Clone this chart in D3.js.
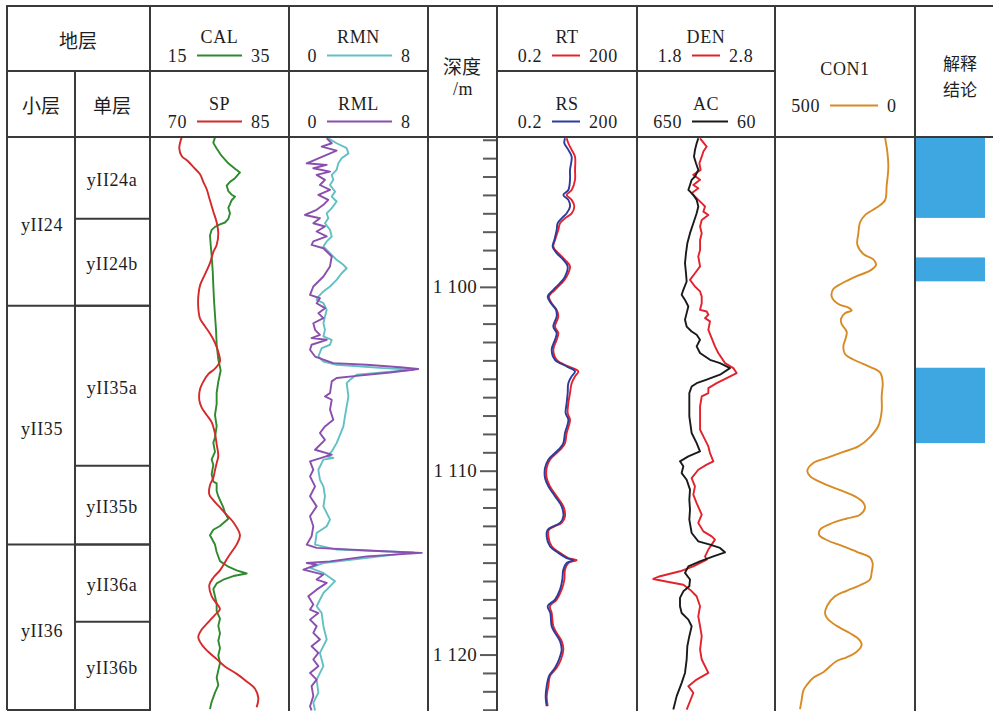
<!DOCTYPE html>
<html>
<head>
<meta charset="utf-8">
<script src="https://cdn.jsdelivr.net/npm/d3@7"></script>
<style>
  body { margin: 0; background: #fff; }
  svg text { font-family: "Liberation Serif", "Times New Roman", serif; fill: #1e1e1e; letter-spacing: 0.6px; }
  svg text.cn { font-family: "Noto Sans CJK SC", sans-serif; letter-spacing: 0; }
</style>
</head>
<body>
<svg id="drawing_region"></svg>
<script>
// ---- depth range shown and strata ----
const depthTop = 1091.85, depthBottom = 1123.07;

const zoneNames = ['yII24', 'yII35', 'yII36'];
const zoneTops = [1091.85, 1101.03, 1114.02];
const zoneBottoms = [1101.03, 1114.02, 1122.99];

const layerNames = ['yII24a', 'yII24b', 'yII35a', 'yII35b', 'yII36a', 'yII36b'];
const layerTops = [1091.85, 1096.30, 1101.03, 1109.73, 1114.02, 1118.21];
const layerBottoms = [1096.30, 1101.03, 1109.73, 1114.02, 1118.21, 1122.99];

// interpretation intervals (解释结论)
const resultTops = [1091.85, 1098.40, 1104.40];
const resultBottoms = [1096.25, 1099.70, 1108.50];

// ---- log curves, [depth, value] ----
const calLog = [[1091.87,24.35],[1092.17,24.11],[1092.48,24.59],[1092.88,25.31],[1093.28,26.27],[1093.58,27.23],[1093.78,27.95],[1094.09,27.23],[1094.29,26.51],[1094.49,26.03],
  [1094.79,26.27],[1094.99,26.75],[1095.09,27.23],[1095.29,26.75],[1095.50,26.51],[1095.70,26.27],[1096.00,26.51],[1096.30,26.27],[1096.50,25.79],[1096.60,25.07],
  [1096.74,24.35],[1096.90,23.87],[1097.21,23.63],[1097.71,23.73],[1098.31,23.87],[1099.12,24.02],[1099.92,24.11],[1100.73,24.21],[1101.53,24.35],[1102.34,24.50],
  [1103.14,24.59],[1103.95,24.83],[1104.55,25.17],[1105.16,24.83],[1105.76,24.59],[1106.37,24.59],[1106.97,24.35],[1107.57,24.59],[1108.18,24.35],[1108.48,24.11],
  [1108.98,24.35],[1109.38,23.87],[1109.69,24.11],[1110.19,23.87],[1110.59,24.11],[1110.69,24.59],[1111.10,24.59],[1111.40,24.83],[1111.60,25.07],[1112.00,25.55],
  [1112.30,25.79],[1112.61,26.27],[1113.01,25.07],[1113.21,24.11],[1113.51,23.63],[1114.01,24.35],[1114.42,24.59],[1114.92,25.07],[1115.22,26.27],[1115.42,27.47],
  [1115.59,28.91],[1115.73,26.99],[1115.93,25.55],[1116.13,24.59],[1116.43,24.11],[1116.83,24.35],[1117.24,24.59],[1117.64,24.59],[1118.04,25.07],[1118.44,24.83],
  [1118.85,25.07],[1119.25,24.83],[1119.65,25.07],[1120.05,24.83],[1120.46,25.07],[1120.86,24.83],[1121.26,24.59],[1121.66,24.83],[1122.07,24.35],[1122.57,23.87],[1122.97,23.63]];

const spLog = [[1091.87,73.42],[1092.47,73.16],[1092.88,73.42],[1093.18,74.13],[1093.48,74.67],[1093.88,75.40],[1094.29,75.75],[1094.69,76.12],[1095.29,76.47],[1095.90,76.83],
  [1096.50,77.20],[1097.10,77.37],[1097.71,77.20],[1098.11,76.83],[1098.71,76.47],[1099.32,75.93],[1099.92,75.40],[1100.53,75.21],[1101.13,75.21],[1101.73,75.40],
  [1102.14,75.93],[1102.54,76.47],[1103.04,77.01],[1103.54,77.37],[1104.05,77.55],[1104.45,77.01],[1104.75,76.29],[1105.16,75.75],[1105.56,75.40],[1106.16,75.32],
  [1106.57,75.58],[1106.97,76.12],[1107.37,76.66],[1107.97,77.01],[1108.58,77.20],[1109.18,77.37],[1109.58,77.20],[1109.98,77.01],[1110.39,76.83],[1110.79,76.47],
  [1111.29,76.40],[1111.60,76.83],[1112.00,77.55],[1112.40,78.28],[1112.80,78.99],[1113.51,79.71],[1114.01,79.36],[1114.41,78.82],[1114.82,78.28],[1115.42,77.55],
  [1115.82,76.83],[1116.23,76.40],[1116.83,76.66],[1117.23,77.20],[1117.53,77.55],[1117.84,77.01],[1118.24,76.29],[1118.64,75.58],[1119.04,75.21],[1119.45,75.58],
  [1119.85,76.29],[1120.25,77.20],[1120.65,78.09],[1121.05,79.36],[1121.46,80.43],[1121.86,81.33],[1122.36,81.69],[1122.87,81.51]];

const rmnLog = [[1091.92,2.26],[1092.19,2.74],[1092.46,3.32],[1092.74,3.42],[1093.01,3.03],[1093.28,2.84],[1093.64,2.74],[1093.91,2.46],[1094.18,2.55],[1094.46,2.36],
  [1094.82,2.65],[1095.09,2.46],[1095.36,2.74],[1095.72,2.46],[1096.00,2.17],[1096.27,2.26],[1096.54,2.07],[1096.90,2.36],[1097.26,2.46],[1097.53,2.17],
  [1097.81,1.98],[1098.17,2.36],[1098.53,2.74],[1098.80,3.13],[1098.99,3.32],[1099.26,3.03],[1099.62,2.74],[1099.98,2.36],[1100.25,1.98],[1100.53,1.69],
  [1100.71,1.59],[1100.89,1.98],[1101.25,2.17],[1101.61,2.07],[1101.98,1.98],[1102.34,2.07],[1102.70,1.98],[1102.88,2.46],[1103.15,2.36],[1103.33,1.88],
  [1103.79,1.69],[1104.06,1.98],[1104.24,2.74],[1104.42,5.43],[1104.51,7.16],[1104.78,3.89],[1105.05,3.51],[1105.24,3.32],[1105.96,3.42],[1106.50,3.32],[1107.05,3.22],
  [1107.59,3.13],[1108.04,2.94],[1108.50,2.74],[1108.95,2.46],[1109.22,2.17],[1109.31,2.55],[1109.40,1.98],[1109.95,1.69],[1110.49,1.78],[1110.85,1.98],
  [1111.39,2.07],[1111.94,1.98],[1112.66,2.36],[1113.02,2.17],[1113.39,1.59],[1114.02,1.50],[1114.29,2.74],[1114.44,7.16],[1115.02,1.98],[1115.29,1.21],
  [1115.56,1.98],[1116.01,2.65],[1116.29,2.36],[1116.65,1.98],[1117.37,1.59],[1117.74,1.88],[1118.46,1.98],[1119.18,2.17],[1119.91,1.78],[1120.63,1.98],
  [1121.36,1.59],[1122.08,1.69],[1122.63,1.40],[1123.04,1.50]];

const rmlLog = [[1091.92,2.17],[1092.19,2.46],[1092.37,1.88],[1092.59,2.74],[1093.28,1.02],[1093.37,2.17],[1093.55,1.40],[1093.73,2.36],[1093.91,1.59],[1094.18,2.07],
  [1094.46,1.78],[1094.73,2.36],[1095.00,1.69],[1095.27,2.26],[1095.54,1.98],[1095.81,1.59],[1096.09,0.92],[1096.27,1.78],[1096.54,1.40],[1096.72,2.07],
  [1096.99,1.59],[1097.26,2.17],[1097.53,1.40],[1097.72,1.30],[1097.90,1.98],[1098.35,2.46],[1098.89,2.36],[1099.44,1.98],[1099.98,1.40],[1100.44,1.21],
  [1100.62,1.78],[1100.89,1.59],[1101.16,2.07],[1101.43,1.69],[1101.70,1.98],[1101.98,1.40],[1102.34,1.50],[1102.61,1.78],[1102.79,1.30],[1102.88,2.17],
  [1103.15,1.30],[1103.42,1.21],[1103.79,1.50],[1104.15,2.55],[1104.24,4.47],[1104.37,6.39],[1104.47,7.44],[1104.66,5.81],[1104.84,3.89],[1104.96,2.74],
  [1105.14,2.46],[1105.78,2.36],[1105.96,2.07],[1106.14,2.46],[1106.68,2.36],[1107.23,2.55],
  [1107.59,2.07],[1107.95,1.78],[1108.32,2.07],[1108.86,1.50],[1109.13,2.46],[1109.49,1.21],[1109.95,1.40],[1110.31,1.21],[1110.85,1.50],[1111.39,1.21],
  [1111.94,1.59],[1112.48,1.21],[1113.02,1.40],[1113.57,1.30],[1114.02,1.02],[1114.20,1.59],[1114.38,5.43],[1114.47,7.64],[1114.66,4.47],[1114.93,2.36],
  [1115.02,1.02],[1115.11,1.59],[1115.38,0.83],[1115.65,1.98],[1115.92,1.59],[1116.10,2.17],[1116.47,1.59],[1116.83,1.11],[1117.28,1.40],[1117.55,1.21],
  [1117.74,1.69],[1118.10,1.21],[1118.46,1.59],[1118.82,1.40],[1119.18,1.78],[1119.55,1.30],[1119.91,1.69],[1120.27,1.40],[1120.63,1.69],[1121.00,1.21],
  [1121.36,1.59],[1121.72,1.30],[1122.26,1.40],[1122.81,1.21],[1123.04,1.30]];

// RT and RS were read at the same depths
const resDepth = [1091.92,1092.19,1092.55,1092.92,1093.64,1094.18,1094.73,1095.00,1095.27,1095.63,1096.00,1096.27,1096.54,1096.90,1097.45,1097.81,1098.17,1098.53,1098.89,1099.44,
  1099.80,1100.16,1100.53,1100.89,1101.25,1101.61,1102.16,1102.52,1102.88,1103.42,1103.97,1104.33,1104.60,1104.87,1105.24,1105.78,1106.32,1106.87,
  1107.23,1107.95,1108.50,1108.77,1109.04,1109.40,1109.85,1110.40,1110.85,1111.39,1111.94,1112.48,1112.84,1113.02,1113.21,1113.57,1114.11,1114.47,1114.75,1114.87,
  1115.02,1115.38,1115.92,1116.47,1117.01,1117.37,1117.74,1118.46,1118.82,1119.27,1119.73,1120.27,1120.72,1121.17,1121.72,1122.26,1122.81];
const rtVal = [6.22,6.76,7.96,9.39,9.39,9.39,7.96,6.22,7.96,9.08,7.96,5.73,4.48,4.12,3.50,3.22,4.12,5.73,7.34,6.22,
  4.86,3.50,2.60,2.97,3.80,4.12,3.50,4.12,3.80,3.22,3.80,6.76,11.07,9.39,7.96,7.34,6.76,6.54,
  7.34,6.22,5.73,4.86,3.80,2.73,2.32,2.32,2.73,3.80,5.28,5.73,4.86,3.50,2.60,2.52,2.97,4.48,6.76,10.19,
  6.76,5.73,5.55,4.86,3.80,2.73,2.97,3.22,3.80,4.86,5.28,4.70,3.80,2.73,2.52,2.32,2.44];
const rsVal = [5.73,5.55,6.76,7.96,7.34,7.34,6.76,5.28,6.76,7.34,6.22,4.86,3.99,3.80,3.39,3.12,3.80,5.28,6.54,5.73,
  4.48,3.22,2.44,2.87,3.68,3.80,3.22,3.80,3.50,2.97,3.50,6.22,9.39,7.96,6.76,6.54,6.22,5.92,
  6.76,5.73,5.28,4.48,3.50,2.52,2.14,2.14,2.52,3.50,4.86,5.28,4.48,3.22,2.44,2.32,2.73,4.12,6.22,8.65,
  6.22,5.28,5.02,4.48,3.50,2.44,2.78,2.97,3.50,4.48,4.86,4.26,3.50,2.60,2.32,2.21,2.32];

const denLog = [[1091.92,2.257],[1092.37,2.305],[1092.64,2.281],[1092.92,2.269],[1093.28,2.252],[1093.64,2.261],[1093.91,2.208],[1094.18,2.257],[1094.46,2.208],[1094.64,2.244],
  [1094.91,2.196],[1095.18,2.232],[1095.45,2.269],[1095.63,2.293],[1095.91,2.281],[1096.09,2.317],[1096.36,2.269],[1096.72,2.257],[1097.08,2.269],[1097.45,2.257],
  [1097.99,2.257],[1098.35,2.244],[1098.89,2.257],[1099.26,2.220],[1099.62,2.184],[1099.98,2.220],[1100.25,2.257],[1100.53,2.269],[1100.89,2.269],[1101.25,2.257],
  [1101.34,2.305],[1101.52,2.317],[1101.70,2.293],[1101.88,2.329],[1102.34,2.317],[1102.79,2.341],[1103.24,2.365],[1103.60,2.389],[1104.15,2.438],[1104.42,2.498],
  [1104.69,2.522],[1104.96,2.450],[1105.24,2.377],[1105.51,2.317],[1105.78,2.317],[1105.96,2.269],[1106.50,2.257],[1107.05,2.257],
  [1107.77,2.257],[1108.13,2.281],[1108.68,2.317],[1109.04,2.329],[1109.49,2.353],[1109.67,2.305],[1109.95,2.244],[1110.40,2.196],[1110.85,2.220],[1111.30,2.208],
  [1111.76,2.232],[1112.39,2.269],[1112.84,2.244],[1113.30,2.281],[1113.57,2.341],[1113.75,2.365],[1114.02,2.341],[1114.29,2.317],[1114.66,2.293],[1114.84,2.305],
  [1115.20,2.208],[1115.47,2.112],[1115.74,1.967],[1115.89,1.918],[1116.07,2.039],[1116.20,2.136],[1116.47,2.184],[1116.83,2.232],[1117.37,2.257],[1117.92,2.244],
  [1118.46,2.257],[1119.00,2.269],[1119.73,2.257],[1120.27,2.269],[1121.00,2.317],[1121.36,2.232],[1121.72,2.172],[1122.08,2.208],[1122.54,2.184],[1122.99,2.160]];

const acLog = [[1091.92,387.8],[1092.19,394.9],[1092.55,402.0],[1092.92,406.3],[1093.28,397.8],[1093.64,387.8],[1094.00,402.0],[1094.18,416.3],[1094.46,423.4],[1094.73,430.5],
  [1095.00,409.2],[1095.27,394.9],[1095.63,387.8],[1096.00,394.9],[1096.54,409.2],[1097.08,423.4],[1097.63,434.8],[1098.17,440.5],[1098.71,444.8],[1099.26,440.5],
  [1099.71,437.7],[1100.16,451.9],[1100.43,459.0],[1100.71,444.8],[1101.07,430.5],[1101.43,437.7],[1101.79,444.8],[1102.16,437.7],[1102.43,416.3],[1102.61,394.9],
  [1102.88,380.7],[1103.24,394.9],[1103.60,380.7],[1103.97,337.9],[1104.15,295.2],[1104.42,252.4],[1104.78,295.2],[1105.05,352.2],[1105.24,394.9],[1105.42,416.3],
  [1105.78,426.3],[1106.32,426.3],[1107.05,426.3],
  [1107.95,416.3],[1108.50,394.9],[1108.95,380.7],[1109.22,430.5],[1109.49,466.2],[1109.76,451.9],[1110.13,459.0],[1110.49,437.7],[1111.03,423.4],[1111.58,426.3],
  [1112.12,423.4],[1112.66,426.3],[1113.39,416.3],[1113.84,387.8],[1114.02,337.9],[1114.20,295.2],[1114.44,273.8],[1114.66,323.7],[1114.93,380.7],[1115.20,430.5],
  [1115.56,444.8],[1115.92,423.4],[1116.29,426.3],[1116.56,451.9],[1116.92,466.2],[1117.37,466.2],[1117.74,459.0],[1118.10,430.5],[1118.46,416.3],[1119.00,426.3],
  [1119.55,434.8],[1120.27,437.7],[1121.00,444.8],[1121.54,459.0],[1122.26,480.4],[1122.99,494.7]];

const con1Depth = [1091.87,1092.67,1093.48,1094.49,1095.29,1095.69,1096.10,1096.50,1097.10,1097.71,
  1098.21,1098.51,1098.81,1099.12,1099.42,1099.82,1100.12,1100.52,1100.93,1101.13,
  1101.29,1101.43,1101.73,1102.03,1102.44,1102.74,1103.24,1103.65,1103.95,1104.35,
  1104.65,1105.16,1105.96,1106.76,1107.57,1108.17,1108.68,1108.98,1109.28,1109.58,
  1109.99,1110.29,1110.69,1111.09,1111.40,1111.70,1112.00,1112.40,1112.60,1112.90,
  1113.21,1113.51,1113.81,1114.11,1114.41,1114.72,1115.02,1115.52,1115.92,1116.23,
  1116.53,1116.83,1117.33,1117.74,1118.04,1118.44,1118.84,1119.14,1119.45,1119.85,
  1120.15,1120.35,1120.65,1120.96,1121.26,1121.66,1121.96,1122.47,1122.97];
const con1Val = [107.1,98.8,95.2,101.2,107.1,136.9,178.6,196.4,202.4,205.9,
  184.5,148.8,139.3,160.7,208.3,261.9,291.7,297.6,273.8,238.1,
  226.2,250.0,264.3,261.9,244.0,246.4,256.0,250.0,220.2,160.7,
  125.0,115.5,119.0,119.0,131.0,160.7,202.4,256.0,309.5,363.1,
  384.5,375.0,327.4,261.9,214.3,186.9,178.6,196.4,244.0,303.6,
  339.3,341.7,309.5,256.0,208.3,160.7,151.2,154.8,160.7,196.4,
  244.0,285.7,313.1,321.4,313.1,279.8,232.1,202.4,190.5,208.3,
  244.0,279.8,303.6,327.4,363.1,386.9,398.8,404.8,410.7];

// ---- layout ----
const config = {
    width: 993, height: 711,
    top: 6, mid: 71, head: 137, bottom: 711,
    left: 7, split: 75, strataRight: 150,
    lineColor: '#3a3a3a'
};

const tracks = [
    { x0: 150, x1: 289, curves: [
        { name: 'CAL', data: calLog, domain: [15, 35], color: '#2f8a2f', row: 0, legend: [197, 242], smooth: false },
        { name: 'SP', data: spLog, domain: [70, 85], color: '#d42a2a', row: 1, legend: [197, 242], smooth: true } ] },
    { x0: 289, x1: 428, curves: [
        { name: 'RMN', data: rmnLog, domain: [0, 8], color: '#62c0c4', row: 0, legend: [327, 392], smooth: false },
        { name: 'RML', data: rmlLog, domain: [0, 8], color: '#8a4fae', row: 1, legend: [327, 392], smooth: false } ] },
    { x0: 497, x1: 637, curves: [
        { name: 'RT', data: d3.zip(resDepth, rtVal), domain: [0.2, 200], log: true, color: '#e8222c', row: 0, legend: [552, 580], smooth: true, labels: ['0.2', '200'] },
        { name: 'RS', data: d3.zip(resDepth, rsVal), domain: [0.2, 200], log: true, color: '#2a3c9c', row: 1, legend: [552, 580], smooth: true, labels: ['0.2', '200'] } ] },
    { x0: 637, x1: 775, curves: [
        { name: 'DEN', data: denLog, domain: [1.8, 2.8], color: '#e3222c', row: 0, legend: [692, 720], smooth: false },
        { name: 'AC', data: acLog, domain: [650, 60], color: '#1a1a1a', row: 1, legend: [692, 728], smooth: false } ] },
    { x0: 775, x1: 915, curves: [
        { name: 'CON1', data: d3.zip(con1Depth, con1Val), domain: [500, 0], color: '#d88a24', row: 2, legend: [830, 878], smooth: true } ] }
];

// baselines of title / scale text for the header rows (row 2 spans both)
const headerRows = [ { title: 43, scale: 62 }, { title: 110, scale: 128 }, { title: 75, scale: 112 } ];

const svg = d3.select('#drawing_region')
    .attr('width', config.width)
    .attr('height', config.height);

const depthScale = d3.scaleLinear()
    .domain([depthTop, depthBottom])
    .range([config.head, config.bottom]);

// ---- interpretation bars ----
svg.append('g').selectAll('rect')
    .data(d3.zip(resultTops, resultBottoms))
    .join('rect')
    .attr('x', 916).attr('width', 69)
    .attr('y', d => depthScale(d[0]))
    .attr('height', d => depthScale(d[1]) - depthScale(d[0]))
    .attr('fill', '#3ea6e1');

// ---- curves ----
tracks.forEach((t, i) => {
    const clipId = 'clip' + i;
    svg.append('clipPath').attr('id', clipId)
        .append('rect')
        .attr('x', t.x0).attr('y', config.head)
        .attr('width', t.x1 - t.x0).attr('height', config.bottom - config.head);

    const g = svg.append('g').attr('clip-path', `url(#${clipId})`);

    t.curves.forEach(c => {
        const xscale = (c.log ? d3.scaleLog() : d3.scaleLinear())
            .domain(c.domain)
            .range([t.x0, t.x1]);
        const line = d3.line()
            .x(d => xscale(d[1]))
            .y(d => depthScale(d[0]))
            .curve(c.smooth ? d3.curveCatmullRom.alpha(0.5) : d3.curveLinear);
        g.append('path')
            .attr('d', line(c.data))
            .attr('fill', 'none')
            .attr('stroke', c.color)
            .attr('stroke-width', 1.9)
            .attr('stroke-linejoin', 'round');
    });

    // header text and legend line
    t.curves.forEach(c => {
        const row = headerRows[c.row];
        const labels = c.labels || [String(c.domain[0]), String(c.domain[1])];
        const cx = (t.x0 + t.x1) / 2;
        svg.append('text')
            .attr('x', cx).attr('y', row.title)
            .attr('text-anchor', 'middle')
            .attr('font-size', '18px')
            .text(c.name);
        svg.append('line')
            .attr('x1', c.legend[0]).attr('x2', c.legend[1])
            .attr('y1', row.scale - 6.5).attr('y2', row.scale - 6.5)
            .attr('stroke', c.color).attr('stroke-width', 2);
        svg.append('text')
            .attr('x', c.legend[0] - 10).attr('y', row.scale)
            .attr('text-anchor', 'end')
            .attr('font-size', '18px')
            .text(labels[0]);
        svg.append('text')
            .attr('x', c.legend[1] + 9).attr('y', row.scale)
            .attr('text-anchor', 'start')
            .attr('font-size', '18px')
            .text(labels[1]);
    });
});

// ---- depth axis ----
const depthAxis = d3.axisLeft(depthScale)
    .tickValues(d3.range(1092, 1124))
    .tickSize(13)
    .tickFormat(d => d % 10 === 0 ? d3.format(',')(d).replace(',', ' ') : '');

svg.append('g')
    .attr('transform', 'translate(496,0)')
    .call(depthAxis)
    .call(g => g.select('.domain').remove())
    .call(g => g.selectAll('.tick line')
        .attr('stroke', '#5a5a5a').attr('stroke-width', 2)
        .attr('x2', d => d % 10 === 0 ? -16 : -13))
    .call(g => g.selectAll('.tick text')
        .attr('x', -19)
        .style('font-size', '19px')
        .style('letter-spacing', '0.3px'));

// ---- table grid ----
const grid = svg.append('g')
    .attr('stroke', config.lineColor)
    .attr('stroke-width', 2);

const hline = (y, x1, x2) => grid.append('line').attr('x1', x1).attr('x2', x2).attr('y1', y).attr('y2', y);
const vline = (x, y1, y2) => grid.append('line').attr('x1', x).attr('x2', x).attr('y1', y1).attr('y2', y2);

hline(config.top, config.left - 1, config.width);
hline(config.head, config.left - 1, config.width);
hline(config.mid, config.left, 428);
hline(config.mid, 497, 775);
hline(config.bottom - 1, config.left, config.strataRight);

vline(config.left, config.top, config.bottom - 1);
vline(config.split, config.mid, config.bottom - 1);
[150, 289, 428, 497, 637, 775, 915].forEach(x => vline(x, config.top - 1, config.bottom));

zoneBottoms.slice(0, -1).forEach(d => hline(depthScale(d), config.left, config.strataRight));
layerBottoms.slice(0, -1).forEach(d => hline(depthScale(d), config.split, config.strataRight));

// ---- strata labels ----
svg.append('g').selectAll('text')
    .data(d3.zip(zoneNames, zoneTops, zoneBottoms))
    .join('text')
    .attr('x', 42)
    .attr('y', d => (depthScale(d[1]) + depthScale(d[2])) / 2 + 10)
    .attr('text-anchor', 'middle')
    .attr('font-size', '18px')
    .text(d => d[0]);

svg.append('g').selectAll('text')
    .data(d3.zip(layerNames, layerTops, layerBottoms))
    .join('text')
    .attr('x', 112)
    .attr('y', d => (depthScale(d[1]) + depthScale(d[2])) / 2 + 8)
    .attr('text-anchor', 'middle')
    .attr('font-size', '18px')
    .text(d => d[0]);

// ---- fixed header words ----
const addText = (txt, x, y, cls, size) => svg.append('text')
    .attr('class', cls || null)
    .attr('x', x).attr('y', y)
    .attr('text-anchor', 'middle')
    .attr('font-size', size || (cls ? '19px' : '18px'))
    .text(txt);

addText('地层', 78, 48, 'cn');
addText('小层', 41, 113, 'cn');
addText('单层', 112, 113, 'cn');
addText('深度', 462, 74, 'cn');
addText('/m', 463, 95);
addText('解释', 960, 70, 'cn', '17px');
addText('结论', 960, 95.5, 'cn', '17px');
</script>
</body>
</html>
